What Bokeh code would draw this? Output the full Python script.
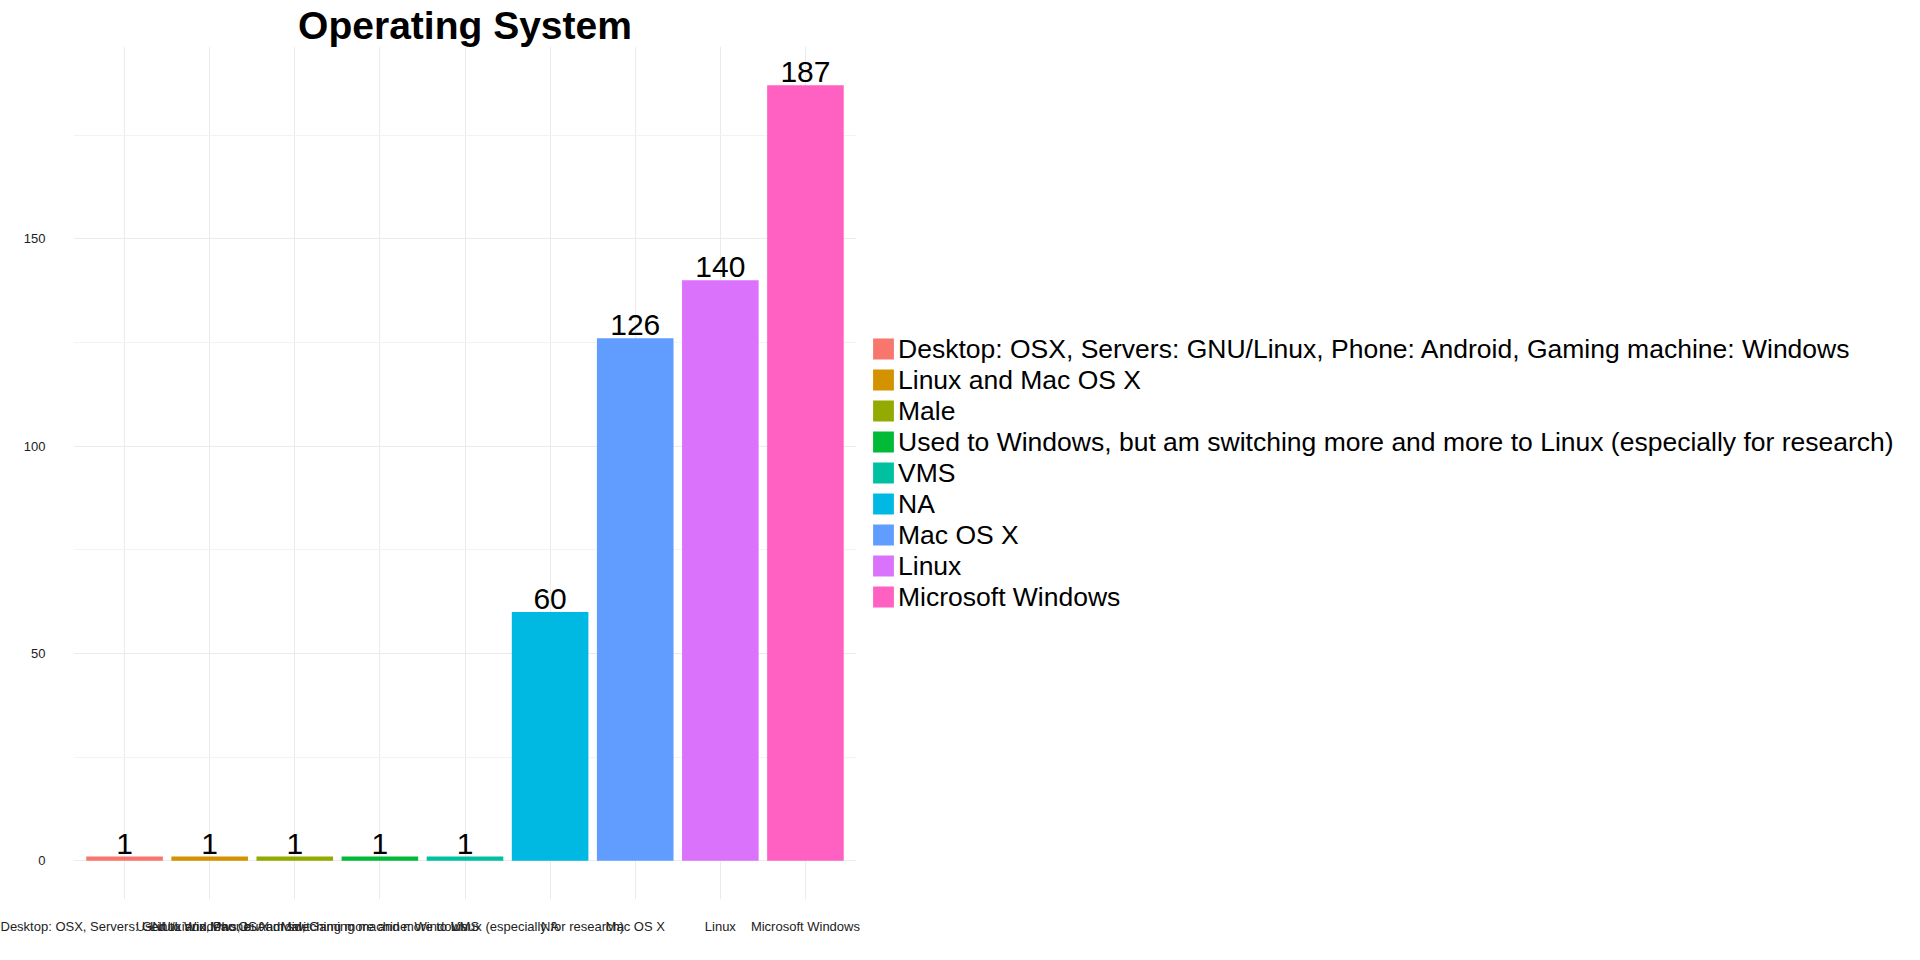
from bokeh.plotting import figure
from bokeh.models import (FactorRange, Range1d, FixedTicker, Legend, LegendItem,
                          ColumnDataSource)
from bokeh.core.properties import value
from bokeh.embed import file_html
from bokeh.resources import INLINE

categories = [
    "Desktop: OSX, Servers: GNU/Linux, Phone: Android, Gaming machine: Windows",
    "Linux and Mac OS X",
    "Male",
    "Used to Windows, but am switching more and more to Linux (especially for research)",
    "VMS",
    "NA",
    "Mac OS X",
    "Linux",
    "Microsoft Windows",
]
counts = [1, 1, 1, 1, 1, 60, 126, 140, 187]
colors = ["#F8766D", "#D39200", "#93AA00", "#00BA38", "#00C19F",
          "#00B9E3", "#619CFF", "#DB72FB", "#FF61C3"]
y_ticks = [0, 50, 100, 150]
y_minor_ticks = [25, 75, 125, 175]
title_text = "Operating System"

FONT = "Liberation Sans"

src = ColumnDataSource(dict(cat=categories, n=counts, col=colors,
                            lab=[str(v) for v in counts]))

p = figure(frame_width=783, frame_height=853, output_backend="svg", toolbar_location=None,
           x_range=FactorRange(factors=categories, range_padding=0.1,
                               range_padding_units="absolute"),
           y_range=Range1d(-9.35, 196.35),
           min_border_left=73, min_border_right=0, min_border_top=46,
           min_border_bottom=61)

p.title.text = title_text
p.title.align = "center"
p.title.text_font = FONT
p.title.text_font_size = "39px"
p.title.text_font_style = "bold"
p.title.text_color = "black"
p.title.standoff = 0

renderers = []
for i, c in enumerate(categories):
    r = p.vbar(x=[c], top=[counts[i]], bottom=0, width=0.9,
               fill_color=colors[i], line_color=None)
    renderers.append(r)

p.text(x="cat", y="n", text="lab", source=src, text_align="center",
       text_baseline="bottom", text_font=value(FONT), text_font_size="30px",
       text_color="black", y_offset=-3)

items = [LegendItem(label=c, renderers=[renderers[i]]) for i, c in enumerate(categories)]
legend = Legend(items=items, location="center_left", orientation="vertical",
                label_text_font=FONT, label_text_font_size="26.5px",
                label_text_color="black", glyph_width=26, glyph_height=26,
                label_height=20, spacing=0, padding=0, margin=14,
                label_standoff=2, border_line_color=None,
                background_fill_alpha=0, inactive_fill_alpha=0)
p.add_layout(legend, "right")

p.outline_line_color = None
p.background_fill_color = "white"
p.border_fill_color = "white"

p.yaxis.ticker = FixedTicker(ticks=y_ticks, minor_ticks=y_minor_ticks)
p.yaxis.axis_line_color = None
p.yaxis.major_tick_line_color = None
p.yaxis.minor_tick_line_color = None
p.yaxis.major_label_text_font = FONT
p.yaxis.major_label_text_font_size = "13px"
p.yaxis.major_label_text_color = "#222222"
p.yaxis.major_label_standoff = 22

p.xaxis.axis_line_color = None
p.xaxis.major_tick_line_color = None
p.xaxis.minor_tick_line_color = None
p.xaxis.major_label_text_font = FONT
p.xaxis.major_label_text_font_size = "13px"
p.xaxis.major_label_text_color = "#222222"
p.xaxis.major_label_standoff = 13
p.xaxis.major_label_orientation = "horizontal"

p.ygrid.grid_line_color = "#ebebeb"
p.ygrid.grid_line_width = 1
p.ygrid.minor_grid_line_color = "#f3f3f3"
p.ygrid.minor_grid_line_width = 1
p.xgrid.grid_line_color = "#ebebeb"
p.xgrid.grid_line_width = 1

open("out.html", "w").write(file_html(p, INLINE))
